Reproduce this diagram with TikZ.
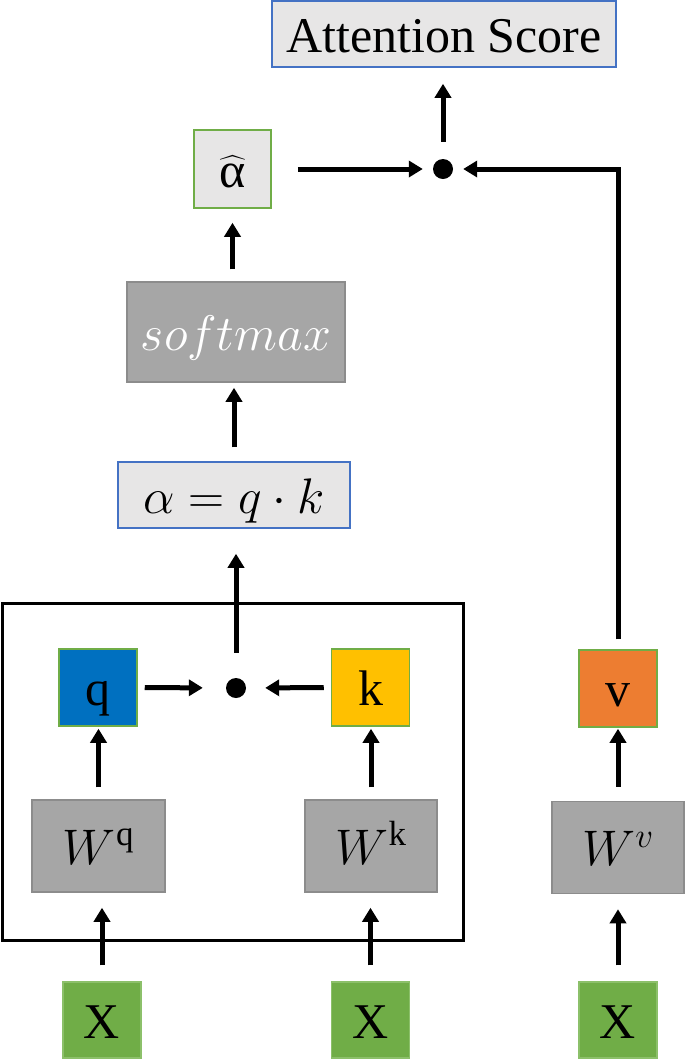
\RequirePackage{fix-cm}
\documentclass[tikz,border=0pt]{standalone}
\usepackage{amsmath}
\usepackage{fontspec}
\setmainfont{Liberation Serif}
\usetikzlibrary{arrows.meta}
\definecolor{lightbox}{HTML}{E7E6E6}
\definecolor{bluebd}{HTML}{4472C4}
\definecolor{greenbd}{HTML}{70AD47}
\definecolor{graybox}{HTML}{A6A6A6}
\definecolor{graybd}{HTML}{8C8C8C}
\definecolor{qcol}{HTML}{0070C0}
\definecolor{kcol}{HTML}{FFC000}
\definecolor{vcol}{HTML}{ED7D31}
\definecolor{xcol}{HTML}{70AD47}
\definecolor{xbd}{HTML}{8CC06A}
\tikzset{
  box/.style={rectangle, inner sep=0pt, line width=1.5pt, text height=48pt, text depth=12pt, font=\fontsize{50}{60}\selectfont},
  lbox/.style={box, fill=lightbox, draw=bluebd},
  gbox/.style={box, fill=graybox, draw=graybd},
  cbox/.style={box, draw=greenbd, minimum width=78pt, minimum height=77pt},
  xbox/.style={box, fill=xcol, draw=xbd, minimum width=78pt, minimum height=76pt},
  wbox/.style={gbox, minimum width=132pt, minimum height=92pt},
  dotnode/.style={circle, fill=black, inner sep=0pt, minimum size=20pt},
  arr/.style={line width=5pt, -{Triangle[length=14pt,width=16pt]}},
  framebox/.style={rectangle, draw=black, line width=3pt, inner sep=0pt}
}
\begin{document}
\begin{tikzpicture}[x=1pt,y=-1pt]
\useasboundingbox (0,0) rectangle (685,1061);
% frame
\node[framebox, minimum width=461pt, minimum height=337pt] (frame) at (232.5,771.5) {};
% top
\node[lbox, minimum width=344pt, minimum height=66pt] (att) at (444,34) {Attention Score};
\node[box, fill=lightbox, draw=greenbd, minimum width=77pt, minimum height=78pt] (ahat) at (232.5,169) {$\widehat{\text{α}}$};
\node[dotnode] (dtop) at (443,169) {};
\node[gbox, minimum width=218pt, minimum height=100pt, text=white] (soft) at (236,332) {$softmax$};
\node[lbox, minimum width=232pt, minimum height=66pt] (alpha) at (234,495) {$\alpha = q\cdot k$};
% middle
\node[cbox, fill=qcol] (q) at (98,687.5) {q};
\node[cbox, fill=kcol] (k) at (370.5,687.5) {k};
\node[cbox, fill=vcol] (v) at (618,688.5) {v};
\node[dotnode] (dqk) at (236,688) {};
\node[wbox, minimum width=133pt] (wq) at (98.5,846) {$W^{\text{q}}$};
\node[wbox] (wk) at (371,846) {$W^{\text{k}}$};
\node[wbox] (wv) at (618,847.5) {$W^{v}$};
% inputs
\node[xbox] (x1) at (102,1020) {X};
\node[xbox] (x2) at (370.5,1020) {X};
\node[xbox] (x3) at (618,1020) {X};
% arrows
\draw[arr, shorten <=16pt, shorten >=15pt] (x1.north) -- (x1.north |- wq.south);
\draw[arr, shorten <=16pt, shorten >=15pt] (x2.north) -- (x2.north |- wk.south);
\draw[arr, shorten <=16pt, shorten >=15pt] (x3.north) -- (x3.north |- wv.south);
\draw[arr, shorten <=12pt, shorten >=2pt] (wq.north) -- (wq.north |- q.south);
\draw[arr, shorten <=12pt, shorten >=2pt] (wk.north) -- (wk.north |- k.south);
\draw[arr, shorten <=14pt, shorten >=1pt] (wv.north) -- (wv.north |- v.south);
\draw[arr, shorten <=7pt, shorten >=23pt] (q.east) -- (dqk.west);
\draw[arr, shorten <=7pt, shorten >=19pt] (k.west) -- (dqk.east);
\draw[arr, shorten <=25pt, shorten >=25pt] (dqk.north) -- (dqk.north |- alpha.south);
\draw[arr, shorten <=14pt, shorten >=5pt] (alpha.north) -- (alpha.north |- soft.south);
\draw[arr, shorten <=12pt, shorten >=14pt] (soft.north -| ahat) -- (ahat.south);
\draw[arr, shorten <=26pt, shorten >=10pt] (ahat.east) -- (dtop.west);
\draw[arr, shorten <=17pt, shorten >=16pt] (dtop.north) -- (dtop.north |- att.south);
\draw[arr, line join=miter, shorten <=10pt, shorten >=10pt] (v.north) |- (dtop.east);
\end{tikzpicture}
\end{document}
